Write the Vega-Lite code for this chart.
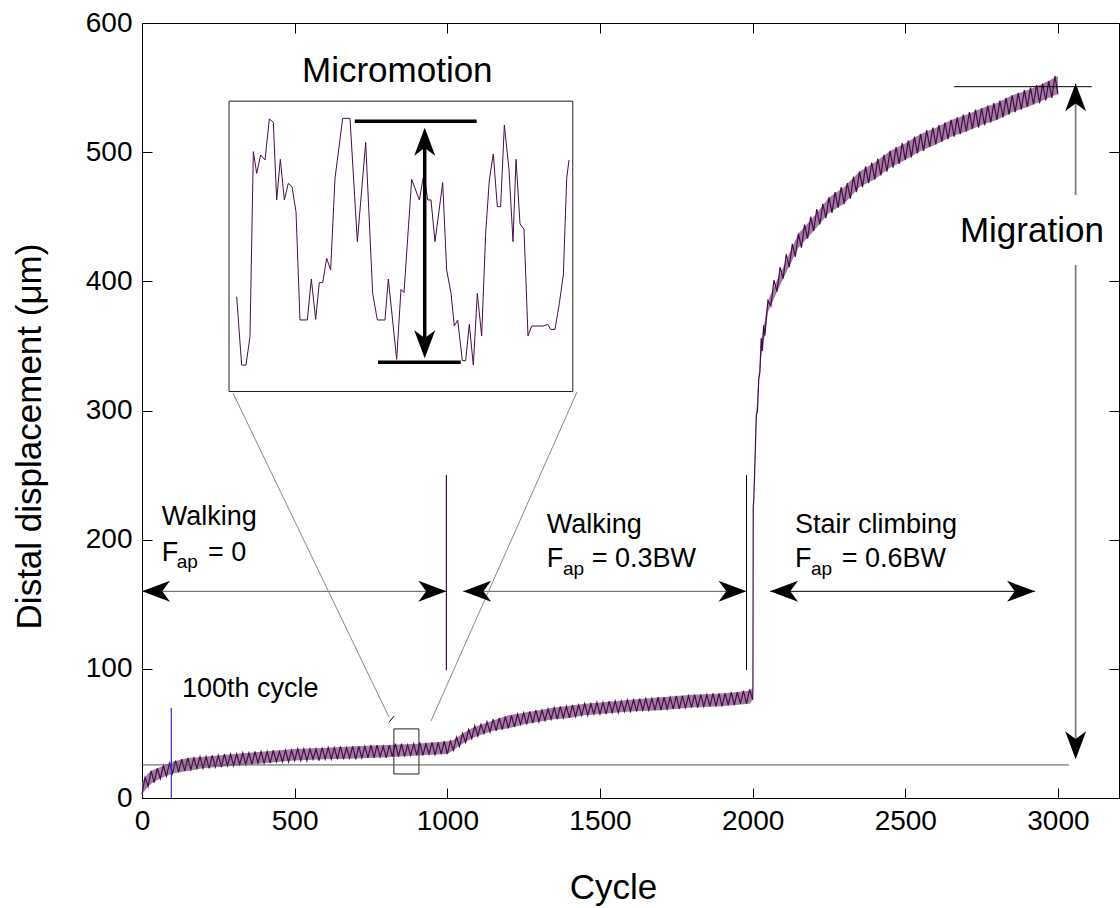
{
"$schema": "https://vega.github.io/schema/vega-lite/v6.json",
"width": 977, "height": 775,
"autosize": {"type": "none"},
"padding": {"left": 142, "top": 23, "right": 1, "bottom": 110},
"background": "white",
"config": {
  "view": {"stroke": "black", "strokeWidth": 1},
  "font": "Liberation Sans",
  "axis": {"domainColor": "black", "tickColor": "black", "labelColor": "black", "titleColor": "black", "labelFont": "Liberation Sans", "titleFont": "Liberation Sans", "titleFontWeight": "normal", "grid": false, "labelFontSize": 28, "titleFontSize": 35, "tickSize": -10, "domainWidth": 1, "tickWidth": 1, "labelFlush": false, "labelOverlap": false, "format": "d"}
},
"resolve": {"axis": {"x": "independent", "y": "independent"}},
"encoding": {
  "x": {"field": "c", "type": "quantitative", "scale": {"domain": [0, 3200], "nice": false, "zero": false}, "axis": null},
  "y": {"field": "v", "type": "quantitative", "scale": {"domain": [0, 600], "nice": false, "zero": false}, "axis": null}
},
"datasets": {
"band": [
{"c":0,"v":3,"v2":12},{"c":10,"v":6,"v2":16},{"c":20,"v":9,"v2":19},{"c":30,"v":11,"v2":21},{"c":50,"v":14,"v2":23},{"c":70,"v":16,"v2":25},{"c":100,"v":19,"v2":28},{"c":150,"v":21,"v2":31},
{"c":200,"v":23,"v2":32},{"c":250,"v":24,"v2":33},{"c":300,"v":25,"v2":34},{"c":350,"v":26,"v2":35},{"c":400,"v":27,"v2":36},{"c":450,"v":28,"v2":37},{"c":500,"v":29,"v2":38},{"c":600,"v":30,"v2":39},
{"c":700,"v":30.5,"v2":40},{"c":800,"v":31.5,"v2":41},{"c":900,"v":33,"v2":42},{"c":1000,"v":34,"v2":44},{"c":1020,"v":37,"v2":45},{"c":1050,"v":42,"v2":50},{"c":1080,"v":46,"v2":54},{"c":1100,"v":48,"v2":56},
{"c":1150,"v":52,"v2":60},{"c":1200,"v":54,"v2":64},{"c":1250,"v":57,"v2":66},{"c":1300,"v":59,"v2":68},{"c":1350,"v":61,"v2":70},{"c":1400,"v":62,"v2":71.5},{"c":1450,"v":64,"v2":73},{"c":1500,"v":65,"v2":74},
{"c":1600,"v":67,"v2":76},{"c":1700,"v":68,"v2":78},{"c":1800,"v":70,"v2":80},{"c":1900,"v":71,"v2":81},{"c":1990,"v":73,"v2":83},{"c":2000,"v":76,"v2":85},{"c":2002,"v":225,"v2":228},{"c":2012,"v":290,"v2":298},
{"c":2020,"v":322,"v2":328},{"c":2030,"v":345,"v2":356},{"c":2040,"v":358,"v2":370},{"c":2050,"v":376,"v2":385},{"c":2080,"v":392,"v2":401},{"c":2100,"v":402,"v2":411},{"c":2150,"v":426,"v2":437},{"c":2200,"v":439,"v2":450},
{"c":2250,"v":453,"v2":465},{"c":2300,"v":460,"v2":473},{"c":2350,"v":473,"v2":485},{"c":2400,"v":479,"v2":492},{"c":2450,"v":488,"v2":501},{"c":2500,"v":494,"v2":507},{"c":2550,"v":501,"v2":514},{"c":2600,"v":506,"v2":519},
{"c":2650,"v":512,"v2":525},{"c":2700,"v":516,"v2":529},{"c":2750,"v":521,"v2":534},{"c":2800,"v":525,"v2":538},{"c":2850,"v":531,"v2":544},{"c":2900,"v":535,"v2":548},{"c":2950,"v":540,"v2":553},{"c":3000,"v":545,"v2":559}
],
"series": [
{"c":0,"v":3},{"c":10,"v":16},{"c":20,"v":9},{"c":30,"v":21},{"c":40,"v":12},{"c":50,"v":23},{"c":60,"v":15},{"c":70,"v":25},{"c":80,"v":17},{"c":90,"v":27},
{"c":100,"v":19},{"c":110,"v":29},{"c":120,"v":20},{"c":130,"v":30},{"c":140,"v":21},{"c":150,"v":31},{"c":160,"v":22},{"c":170,"v":31},{"c":180,"v":23},{"c":190,"v":32},
{"c":200,"v":23},{"c":210,"v":32},{"c":220,"v":23},{"c":230,"v":33},{"c":240,"v":24},{"c":250,"v":33},{"c":260,"v":24},{"c":270,"v":34},{"c":280,"v":25},{"c":290,"v":34},
{"c":300,"v":25},{"c":310,"v":34},{"c":320,"v":26},{"c":330,"v":35},{"c":340,"v":26},{"c":350,"v":35},{"c":360,"v":26},{"c":370,"v":36},{"c":380,"v":27},{"c":390,"v":36},
{"c":400,"v":27},{"c":410,"v":36},{"c":420,"v":27},{"c":430,"v":37},{"c":440,"v":28},{"c":450,"v":36},{"c":460,"v":28},{"c":470,"v":37},{"c":480,"v":28},{"c":490,"v":37},
{"c":500,"v":29},{"c":510,"v":38},{"c":520,"v":29},{"c":530,"v":38},{"c":540,"v":29},{"c":550,"v":38},{"c":560,"v":30},{"c":570,"v":38},{"c":580,"v":29},{"c":590,"v":39},
{"c":600,"v":30},{"c":610,"v":39},{"c":620,"v":30},{"c":630,"v":39},{"c":640,"v":30},{"c":650,"v":40},{"c":660,"v":30},{"c":670,"v":39},{"c":680,"v":31},{"c":690,"v":40},
{"c":700,"v":30},{"c":710,"v":40},{"c":720,"v":31},{"c":730,"v":40},{"c":740,"v":31},{"c":750,"v":41},{"c":760,"v":31},{"c":770,"v":41},{"c":780,"v":32},{"c":790,"v":40},
{"c":800,"v":31},{"c":810,"v":41},{"c":820,"v":32},{"c":830,"v":42},{"c":840,"v":32},{"c":850,"v":42},{"c":860,"v":32},{"c":870,"v":41},{"c":880,"v":33},{"c":890,"v":42},
{"c":900,"v":33},{"c":910,"v":43},{"c":920,"v":33},{"c":930,"v":42},{"c":940,"v":34},{"c":950,"v":43},{"c":960,"v":33},{"c":970,"v":43},{"c":980,"v":34},{"c":990,"v":44},
{"c":1000,"v":34},{"c":1010,"v":44},{"c":1020,"v":37},{"c":1030,"v":47},{"c":1040,"v":40},{"c":1050,"v":50},{"c":1060,"v":43},{"c":1070,"v":53},{"c":1080,"v":46},{"c":1090,"v":56},
{"c":1100,"v":48},{"c":1110,"v":57},{"c":1120,"v":50},{"c":1130,"v":59},{"c":1140,"v":51},{"c":1150,"v":61},{"c":1160,"v":52},{"c":1170,"v":62},{"c":1180,"v":53},{"c":1190,"v":63},
{"c":1200,"v":54},{"c":1210,"v":64},{"c":1220,"v":55},{"c":1230,"v":65},{"c":1240,"v":57},{"c":1250,"v":66},{"c":1260,"v":57},{"c":1270,"v":67},{"c":1280,"v":58},{"c":1290,"v":68},
{"c":1300,"v":59},{"c":1310,"v":68},{"c":1320,"v":60},{"c":1330,"v":69},{"c":1340,"v":61},{"c":1350,"v":70},{"c":1360,"v":61},{"c":1370,"v":71},{"c":1380,"v":62},{"c":1390,"v":71},
{"c":1400,"v":62},{"c":1410,"v":72},{"c":1420,"v":63},{"c":1430,"v":72},{"c":1440,"v":64},{"c":1450,"v":73},{"c":1460,"v":64},{"c":1470,"v":73},{"c":1480,"v":65},{"c":1490,"v":74},
{"c":1500,"v":65},{"c":1510,"v":74},{"c":1520,"v":65},{"c":1530,"v":75},{"c":1540,"v":66},{"c":1550,"v":75},{"c":1560,"v":66},{"c":1570,"v":75},{"c":1580,"v":67},{"c":1590,"v":76},
{"c":1600,"v":67},{"c":1610,"v":76},{"c":1620,"v":67},{"c":1630,"v":77},{"c":1640,"v":68},{"c":1650,"v":77},{"c":1660,"v":68},{"c":1670,"v":77},{"c":1680,"v":68},{"c":1690,"v":78},
{"c":1700,"v":68},{"c":1710,"v":78},{"c":1720,"v":69},{"c":1730,"v":78},{"c":1740,"v":69},{"c":1750,"v":79},{"c":1760,"v":69},{"c":1770,"v":79},{"c":1780,"v":70},{"c":1790,"v":79},
{"c":1800,"v":70},{"c":1810,"v":80},{"c":1820,"v":70},{"c":1830,"v":80},{"c":1840,"v":71},{"c":1850,"v":80},{"c":1860,"v":71},{"c":1870,"v":81},{"c":1880,"v":71},{"c":1890,"v":81},
{"c":1900,"v":71},{"c":1910,"v":81},{"c":1920,"v":72},{"c":1930,"v":82},{"c":1940,"v":72},{"c":1950,"v":82},{"c":1960,"v":73},{"c":1970,"v":83},{"c":1980,"v":73},{"c":1990,"v":84},
{"c":2000,"v":76},{"c":2001,"v":85},{"c":2002,"v":225},{"c":2004,"v":232},{"c":2008,"v":262},{"c":2012,"v":296},{"c":2016,"v":300},{"c":2020,"v":324},{"c":2024,"v":330},{"c":2028,"v":356},{"c":2032,"v":346},{"c":2036,"v":366},{"c":2040,"v":358},
{"c":2050,"v":385},{"c":2060,"v":381},{"c":2070,"v":401},{"c":2080,"v":392},{"c":2090,"v":411},{"c":2100,"v":402},{"c":2110,"v":421},{"c":2120,"v":411},{"c":2130,"v":429},{"c":2140,"v":419},
{"c":2150,"v":437},{"c":2160,"v":426},{"c":2170,"v":444},{"c":2180,"v":433},{"c":2190,"v":450},{"c":2200,"v":439},{"c":2210,"v":456},{"c":2220,"v":444},{"c":2230,"v":460},{"c":2240,"v":449},
{"c":2250,"v":465},{"c":2260,"v":453},{"c":2270,"v":469},{"c":2280,"v":457},{"c":2290,"v":473},{"c":2300,"v":460},{"c":2310,"v":476},{"c":2320,"v":464},{"c":2330,"v":481},{"c":2340,"v":469},
{"c":2350,"v":485},{"c":2360,"v":473},{"c":2370,"v":489},{"c":2380,"v":476},{"c":2390,"v":492},{"c":2400,"v":479},{"c":2410,"v":495},{"c":2420,"v":482},{"c":2430,"v":498},{"c":2440,"v":485},
{"c":2450,"v":501},{"c":2460,"v":488},{"c":2470,"v":504},{"c":2480,"v":491},{"c":2490,"v":507},{"c":2500,"v":494},{"c":2510,"v":509},{"c":2520,"v":496},{"c":2530,"v":512},{"c":2540,"v":499},
{"c":2550,"v":514},{"c":2560,"v":501},{"c":2570,"v":517},{"c":2580,"v":504},{"c":2590,"v":519},{"c":2600,"v":506},{"c":2610,"v":521},{"c":2620,"v":508},{"c":2630,"v":523},{"c":2640,"v":510},
{"c":2650,"v":525},{"c":2660,"v":512},{"c":2670,"v":527},{"c":2680,"v":514},{"c":2690,"v":529},{"c":2700,"v":516},{"c":2710,"v":531},{"c":2720,"v":518},{"c":2730,"v":533},{"c":2740,"v":519},
{"c":2750,"v":534},{"c":2760,"v":521},{"c":2770,"v":536},{"c":2780,"v":523},{"c":2790,"v":538},{"c":2800,"v":525},{"c":2810,"v":540},{"c":2820,"v":527},{"c":2830,"v":542},{"c":2840,"v":529},
{"c":2850,"v":544},{"c":2860,"v":531},{"c":2870,"v":546},{"c":2880,"v":533},{"c":2890,"v":548},{"c":2900,"v":535},{"c":2910,"v":550},{"c":2920,"v":537},{"c":2930,"v":552},{"c":2940,"v":538},
{"c":2950,"v":553},{"c":2960,"v":540},{"c":2970,"v":555},{"c":2980,"v":542},{"c":2990,"v":559},{"c":3000,"v":545}
],
"inset": [
{"c":310.1,"v":388.1},{"c":326.4,"v":335.2},{"c":340.6,"v":335.2},{"c":353.7,"v":357.2},{"c":364.7,"v":500.4},{"c":375.6,"v":483.6},{"c":388.7,"v":497.8},{"c":402.9,"v":493.9},{"c":417.1,"v":525.7},{"c":430.1,"v":523.1},
{"c":441.1,"v":463},{"c":453.1,"v":494.5},{"c":466.2,"v":463},{"c":479.3,"v":475.9},{"c":491.3,"v":473.3},{"c":504.4,"v":453.9},{"c":517.5,"v":370.1},{"c":541.5,"v":370.1},{"c":554.6,"v":401.8},{"c":568.8,"v":370.6},
{"c":580.8,"v":399},{"c":591.8,"v":399},{"c":604.9,"v":417.8},{"c":617.9,"v":408.8},{"c":632.1,"v":479.7},{"c":657.3,"v":526.2},{"c":681.3,"v":526.2},{"c":705.3,"v":430.7},{"c":732.6,"v":507.6},{"c":755.5,"v":390.7},
{"c":770.8,"v":370.1},{"c":795.9,"v":370.1},{"c":806.8,"v":401.8},{"c":834.1,"v":339.6},{"c":848.3,"v":393.8},{"c":858.1,"v":391.2},{"c":883.3,"v":478.9},{"c":908.4,"v":463},{"c":923.6,"v":483.6},{"c":935.7,"v":463},
{"c":946.6,"v":463},{"c":959.7,"v":430.7},{"c":984.8,"v":476.4},{"c":997.9,"v":408.8},{"c":1012.1,"v":390.7},{"c":1023,"v":365.4},{"c":1033.9,"v":370.1},{"c":1049.2,"v":338.6},{"c":1060.1,"v":338.6},{"c":1072.1,"v":366.7},
{"c":1085.2,"v":335.2},{"c":1098.3,"v":390.7},{"c":1112.5,"v":357.7},{"c":1125.6,"v":437.2},{"c":1137.6,"v":478.5},{"c":1150.7,"v":498.6},{"c":1163.8,"v":457.8},{"c":1174.7,"v":457.8},{"c":1186.8,"v":521},{"c":1202.1,"v":486.2},
{"c":1215.2,"v":430.7},{"c":1225,"v":494.5},{"c":1238.1,"v":444.4},{"c":1251.2,"v":440.3},{"c":1264.3,"v":357.7},{"c":1276.3,"v":365.4},{"c":1314.5,"v":365.4},{"c":1328.7,"v":366.7},{"c":1338.5,"v":362.8},{"c":1352.7,"v":362.8},
{"c":1366.9,"v":383},{"c":1380,"v":404.9},{"c":1391,"v":479.7},{"c":1398.6,"v":493.9}
],
"frames": [
{"c":285,"c2":1411,"v":314.7,"v2":539.5},
{"c":825,"c2":907,"v":18.6,"v2":53.5}
],
"darkGrayLines": [
{"c":0,"c2":997,"v":160,"v2":160},
{"c":1052,"c2":1980,"v":160,"v2":160},
{"c":0,"c2":3036,"v":25.6,"v2":25.6}
],
"zoomLines": [
{"c":298,"c2":809,"v":313.5,"v2":62.7},
{"c":1424.8,"c2":946.6,"v":314.3,"v2":59.6}
],
"migrationShaft": [
{"c":3058,"c2":3058,"v":540,"v2":466.8},
{"c":3058,"c2":3058,"v":412.6,"v2":40}
],
"blackLines": [
{"c":2057,"c2":2925,"v":160,"v2":160},
{"c":2660,"c2":3111,"v":550.7,"v2":550.7},
{"c":1980,"c2":1980,"v":99,"v2":250},
{"c":810,"c2":826,"v":59,"v2":63.5}
],
"phaseLine": [{"c":997,"c2":997,"v":99,"v2":250}],
"cycleMarker": [{"c":96,"c2":96,"v":0,"v2":69.7}],
"micromotionBars": [
{"c":697,"c2":1096,"v":524,"v2":524},
{"c":773,"c2":1044,"v":337.4,"v2":337.4},
{"c":926,"c2":926,"v":505,"v2":355}
],
"arrowheads": [
{"c":0,"v":160,"d":"left"},{"c":997,"v":160,"d":"right"},
{"c":1052,"v":160,"d":"left"},{"c":1980,"v":160,"d":"right"},
{"c":2057,"v":160,"d":"left"},{"c":2925,"v":160,"d":"right"},
{"c":3058,"v":553.3,"d":"up"},{"c":3058,"v":30,"d":"down"},
{"c":926,"v":519,"d":"up"},{"c":926,"v":340.4,"d":"down"}
],
"bigLabels": [
{"c":524,"v":554,"t":"Micromotion"},
{"c":2679,"v":430.4,"t":"Migration"}
],
"labels": [
{"c":131,"v":78.2,"t":"100th cycle"},
{"c":65,"v":211.4,"t":"Walking"},{"c":64.5,"v":183.5,"t":"F"},{"c":216,"v":183.5,"t":"= 0"},
{"c":1326,"v":205.2,"t":"Walking"},{"c":1326,"v":178.8,"t":"F"},{"c":1473,"v":178.8,"t":"= 0.3BW"},
{"c":2139,"v":205.2,"t":"Stair climbing"},{"c":2139,"v":178.8,"t":"F"},{"c":2292,"v":178.8,"t":"= 0.6BW"}
],
"subscripts": [
{"c":114,"v":178,"t":"ap"},{"c":1379,"v":172.6,"t":"ap"},{"c":2191,"v":172.6,"t":"ap"}
]
},
"layer": [
{
  "data": {"name": "band"},
  "mark": {"type": "area", "color": "#8e6a8e", "opacity": 0.85},
  "encoding": {"y2": {"field": "v2"}}
},
{
  "data": {"name": "series"},
  "mark": {"type": "line", "color": "#4b0a4b", "strokeWidth": 1.2},
  "encoding": {
    "x": {"field": "c", "type": "quantitative", "scale": {"domain": [0, 3200], "nice": false, "zero": false},
      "axis": {"title": "Cycle", "values": [0, 500, 1000, 1500, 2000, 2500, 3000], "labelPadding": 19, "titleX": 471, "titleY": 100, "titleBaseline": "alphabetic", "titleAlign": "center", "titleAnchor": null}},
    "y": {"field": "v", "type": "quantitative", "scale": {"domain": [0, 600], "nice": false, "zero": false},
      "axis": {"title": "Distal displacement (μm)", "values": [0, 100, 200, 300, 400, 500, 600], "labelPadding": 20, "titleX": -102, "titleY": 413, "titleAngle": -90, "titleAlign": "center", "titleBaseline": "alphabetic", "titleAnchor": null}}
  }
},
{
  "data": {"name": "frames"},
  "mark": {"type": "rect", "fill": null, "fillOpacity": 0, "stroke": "#222", "strokeWidth": 1},
  "encoding": {
    "x": {"field": "c", "type": "quantitative", "scale": {"domain": [0, 3200], "nice": false, "zero": false},
      "axis": {"orient": "top", "values": [0, 500, 1000, 1500, 2000, 2500, 3000], "labels": false, "domain": false, "title": null}},
    "x2": {"field": "c2"},
    "y": {"field": "v", "type": "quantitative", "scale": {"domain": [0, 600], "nice": false, "zero": false},
      "axis": {"orient": "right", "values": [0, 100, 200, 300, 400, 500, 600], "labels": false, "domain": false, "title": null}},
    "y2": {"field": "v2"}
  }
},
{
  "data": {"name": "inset"},
  "mark": {"type": "line", "color": "#4b0a4b", "strokeWidth": 1}
},
{
  "data": {"name": "darkGrayLines"},
  "mark": {"type": "rule", "color": "#555555", "strokeWidth": 1},
  "encoding": {"x2": {"field": "c2"}, "y2": {"field": "v2"}}
},
{
  "data": {"name": "zoomLines"},
  "mark": {"type": "rule", "color": "#888888", "strokeWidth": 1},
  "encoding": {"x2": {"field": "c2"}, "y2": {"field": "v2"}}
},
{
  "data": {"name": "migrationShaft"},
  "mark": {"type": "rule", "color": "#808080", "strokeWidth": 1.8},
  "encoding": {"x2": {"field": "c2"}, "y2": {"field": "v2"}}
},
{
  "data": {"name": "blackLines"},
  "mark": {"type": "rule", "color": "black", "strokeWidth": 1},
  "encoding": {"x2": {"field": "c2"}, "y2": {"field": "v2"}}
},
{
  "data": {"name": "phaseLine"},
  "mark": {"type": "rule", "color": "#4b0a4b", "strokeWidth": 1.2},
  "encoding": {"x2": {"field": "c2"}, "y2": {"field": "v2"}}
},
{
  "data": {"name": "cycleMarker"},
  "mark": {"type": "rule", "color": "#2a2ae0", "strokeWidth": 1.2},
  "encoding": {"x2": {"field": "c2"}, "y2": {"field": "v2"}}
},
{
  "data": {"name": "micromotionBars"},
  "mark": {"type": "rule", "color": "black", "strokeWidth": 3.5},
  "encoding": {"x2": {"field": "c2"}, "y2": {"field": "v2"}}
},
{
  "data": {"name": "arrowheads"},
  "mark": {"type": "point", "filled": true, "color": "black", "opacity": 1, "size": 784, "strokeWidth": 0},
  "encoding": {
    "shape": {"field": "d", "type": "nominal", "legend": null,
      "scale": {"domain": ["right", "left", "up", "down"],
        "range": ["M0,0 L-2,-0.75 L-1.45,0 L-2,0.75 Z", "M0,0 L2,-0.75 L1.45,0 L2,0.75 Z", "M0,0 L-0.75,2 L0,1.45 L0.75,2 Z", "M0,0 L-0.75,-2 L0,-1.45 L0.75,-2 Z"]}}
  }
},
{
  "data": {"name": "bigLabels"},
  "mark": {"type": "text", "font": "Liberation Sans", "fontSize": 35, "align": "left", "baseline": "alphabetic", "color": "black"},
  "encoding": {"text": {"field": "t"}}
},
{
  "data": {"name": "labels"},
  "mark": {"type": "text", "font": "Liberation Sans", "fontSize": 27, "align": "left", "baseline": "alphabetic", "color": "black"},
  "encoding": {"text": {"field": "t"}}
},
{
  "data": {"name": "subscripts"},
  "mark": {"type": "text", "font": "Liberation Sans", "fontSize": 19, "align": "left", "baseline": "alphabetic", "color": "black"},
  "encoding": {"text": {"field": "t"}}
}
]
}
